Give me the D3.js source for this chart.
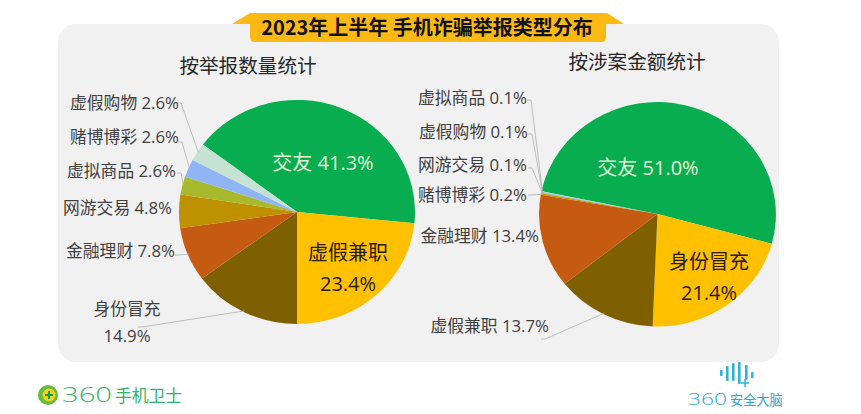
<!DOCTYPE html>
<html lang="zh">
<head>
<meta charset="utf-8">
<title>2023年上半年 手机诈骗举报类型分布</title>
<script src="https://cdn.jsdelivr.net/npm/d3@7"></script>
<style>
	html, body { margin: 0; padding: 0; background: #fff; overflow: hidden; }
	text { font-family: "Open Sans", "Noto Sans CJK SC", sans-serif; }
</style>
</head>
<body>
<script>
// values
var titleText = "2023年上半年 手机诈骗举报类型分布";

var leftTitle = "按举报数量统计";
var leftNames = ["交友", "虚假兼职", "身份冒充", "金融理财", "网游交易", "虚拟商品", "赌博博彩", "虚假购物"];
var leftValues = [41.3, 23.4, 14.9, 7.8, 4.8, 2.6, 2.6, 2.6];

var rightTitle = "按涉案金额统计";
var rightNames = ["交友", "身份冒充", "虚假兼职", "金融理财", "赌博博彩", "网游交易", "虚假购物", "虚拟商品"];
var rightValues = [51.0, 21.4, 13.7, 13.4, 0.2, 0.1, 0.1, 0.1];

// colours go by slice position in both pies
var sliceColors = ["#08ad50", "#ffc000", "#7f6000", "#c55a11", "#bf9000", "#a9b92e", "#8fb5f7", "#c5e2d3"];

// label placement, same order as the names: [x, baseline, anchor, two lines?, leader x, leader y]
var leftLabels = [
	[323, 170, "middle", true],
	[348, 260, "middle", true],
	[127, 315, "middle", true, 138, 327],
	[175, 257, "end", false, 175, 255],
	[172, 214, "end", false],
	[176, 177, "end", false, 177, 173],
	[179, 143, "end", false, 178, 142],
	[179, 109, "end", false, 177, 103]
];
var rightLabels = [
	[648, 175, "middle", true],
	[709, 269, "middle", true],
	[549, 332, "end", false, 541, 339],
	[539, 242, "end", false],
	[527, 201, "end", false, 528, 195],
	[527, 171, "end", false, 528, 168],
	[528, 138, "end", false, 528, 134],
	[527, 104, "end", false, 527, 100]
];

var width = 861, height = 414;
var svg = d3.select("body").append("svg")
	.attr("width", width)
	.attr("height", height)
	.style("display", "block");

//panel
svg.append("rect")
	.attr("x", 58).attr("y", 24)
	.attr("width", 721).attr("height", 338)
	.attr("rx", 18)
	.attr("fill", "#f1f1f2");

//title banner
svg.append("path").attr("fill", "#fdb913").attr("d", "M232,24 L250,13 L607,13 L624,24 L606,24 L606,37 Q606,42 601,42 L255,42 Q250,42 250,37 L250,24 Z");
svg.append("text")
	.attr("x", 427).attr("y", 35)
	.attr("text-anchor", "middle")
	.attr("font-size", 20)
	.attr("font-weight", 700)
	.attr("fill", "#111")
	.style("font-family", '"Noto Sans CJK SC", sans-serif')
	.text(titleText);

function drawPie(o) {
	var g = svg.append("g");
	var pie = d3.pie().sort(null)
		.startAngle(o.start)
		.endAngle(o.start + 2 * Math.PI);
	var arcs = pie(o.values);
	var arc = d3.arc().innerRadius(0).outerRadius(1);

	// the picture is stretched a little wider than tall
	var sx = d3.scaleLinear().domain([-1, 1]).range([o.cx - o.rx, o.cx + o.rx]);
	var sy = d3.scaleLinear().domain([-1, 1]).range([o.cy - o.ry, o.cy + o.ry]);

	g.append("g")
		.attr("transform", "translate(" + o.cx + "," + o.cy + ") scale(" + o.rx + "," + o.ry + ")")
		.selectAll("path")
		.data(arcs)
		.enter().append("path")
		.attr("d", arc)
		.attr("fill", function(d, i) { return sliceColors[i]; });

	//leader lines
	arcs.forEach(function(d, i) {
		var l = o.labels[i];
		if (l.length < 5) return;
		var a = (d.startAngle + d.endAngle) / 2;
		var px = sx(Math.sin(a) * 0.99), py = sy(-Math.cos(a) * 0.99);
		g.append("path")
			.attr("fill", "none")
			.attr("stroke", "#b0b0b0")
			.attr("stroke-width", 0.8)
			.attr("d", d3.line()([[l[4], l[5]], [l[4] + 4, l[5]], [px, py]]));
	});

	//title
	g.append("text")
		.attr("x", o.titleX).attr("y", o.titleY)
		.attr("text-anchor", "middle")
		.attr("font-size", 19.6)
		.attr("fill", "#262626")
		.text(o.title);

	//labels
	arcs.forEach(function(d, i) {
		var l = o.labels[i];
		var pct = o.values[i].toFixed(1) + "%";
		var fill = i == 0 ? "#e4f5d6" : i == 1 ? "#2b1a00" : "#404040";
		var size = i < 2 ? 20 : 16.8;
		if (i == 0) {
			g.append("text").attr("x", l[0]).attr("y", l[1])
				.attr("text-anchor", l[2]).attr("font-size", size).attr("fill", fill)
				.text(o.names[i] + " " + pct);
		} else if (l[3]) {
			g.append("text").attr("x", l[0]).attr("y", l[1])
				.attr("text-anchor", l[2]).attr("font-size", size).attr("fill", fill)
				.text(o.names[i]);
			g.append("text").attr("x", l[0]).attr("y", l[1] + (i == 1 ? 31 : 27))
				.attr("text-anchor", l[2]).attr("font-size", size).attr("fill", fill)
				.text(pct);
		} else {
			g.append("text").attr("x", l[0]).attr("y", l[1])
				.attr("text-anchor", l[2]).attr("font-size", size).attr("fill", fill)
				.text(o.names[i] + " " + pct);
		}
	});
}

drawPie({
	title: leftTitle, titleX: 248, titleY: 73,
	names: leftNames, values: leftValues, labels: leftLabels,
	cx: 297, cy: 212, rx: 118, ry: 112,
	start: -52.9 * Math.PI / 180
});
drawPie({
	title: rightTitle, titleX: 637, titleY: 69,
	names: rightNames, values: rightValues, labels: rightLabels,
	cx: 657.5, cy: 214, rx: 118.5, ry: 112.5,
	start: -78.3 * Math.PI / 180
});

//360 logos at the bottom
var mobile = svg.append("g");
mobile.append("circle").attr("cx", 48).attr("cy", 395).attr("r", 10).attr("fill", "#63bd3c");
mobile.append("circle").attr("cx", 49).attr("cy", 395).attr("r", 6.5).attr("fill", "#f7d11e");
mobile.append("path").attr("d", "M45,395H53M49,391V399").attr("stroke", "#169a4c").attr("stroke-width", 2);
mobile.append("text").attr("x", 62).attr("y", 402)
	.attr("font-size", 20).attr("font-weight", 300).attr("fill", "#2fb56a")
	.attr("textLength", 50).attr("lengthAdjust", "spacingAndGlyphs")
	.text("360");
mobile.append("text").attr("x", 115).attr("y", 402)
	.attr("font-size", 16.8).attr("fill", "#2fb56a")
	.text("手机卫士");

var brain = svg.append("g").attr("fill", "#2fb4d2");
var barX = [720, 726, 732, 738, 745, 751];
var barTop = [370, 366, 363, 362, 365, 372];
var barBottom = [376, 381, 381, 384, 380, 378];
barX.forEach(function(x, i) {
	brain.append("rect").attr("x", x).attr("y", barTop[i])
		.attr("width", 2.6).attr("height", barBottom[i] - barTop[i]).attr("rx", 1);
});
brain.append("path").attr("d", "M741,383H749M745,379V387").attr("stroke", "#2fb4d2").attr("stroke-width", 1.5);
brain.append("text").attr("x", 688).attr("y", 405)
	.attr("font-size", 16).attr("font-weight", 300).attr("fill", "#2aa5cf")
	.attr("textLength", 39).attr("lengthAdjust", "spacingAndGlyphs")
	.text("360");
brain.append("text").attr("x", 730).attr("y", 405)
	.attr("font-size", 13.2).attr("fill", "#2aa5cf")
	.text("安全大脑");
</script>
</body>
</html>
